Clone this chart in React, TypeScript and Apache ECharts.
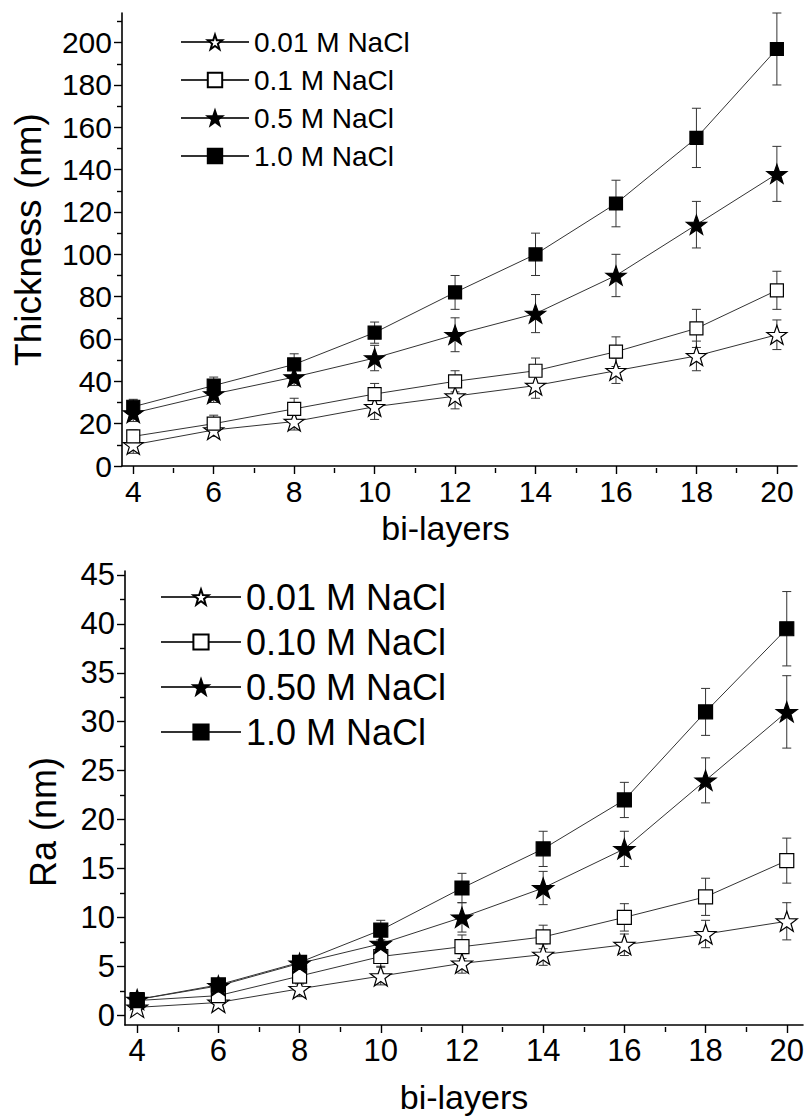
import React, { useEffect, useRef } from "react";
import * as echarts from "echarts";

// ---------- data ----------
const bilayers = [4, 6, 8, 10, 12, 14, 16, 18, 20];

const thickNames = ["0.01 M NaCl", "0.1 M NaCl", "0.5 M NaCl", "1.0 M NaCl"];
const thick001 = [10, 17, 21, 28, 33, 38, 45, 52, 62];
const thick001Err = [4, 3, 4, 6, 6, 6, 6, 7, 7];
const thick01 = [14, 20, 27, 34, 40, 45, 54, 65, 83];
const thick01Err = [3, 4, 5, 5, 5, 6, 7, 9, 9];
const thick05 = [25, 34, 42, 51, 62, 72, 90, 114, 138];
const thick05Err = [4, 4, 4, 6, 8, 9, 10, 11, 13];
const thick10 = [28, 38, 48, 63, 82, 100, 124, 155, 197];
const thick10Err = [3.5, 4, 5, 5, 8, 10, 11, 14, 17];

const raNames = ["0.01 M NaCl", "0.10 M NaCl", "0.50 M NaCl", "1.0 M NaCl"];
const ra001 = [0.8, 1.3, 2.7, 4, 5.3, 6.2, 7.2, 8.3, 9.6];
const ra001Err = [0.5, 0.5, 0.8, 0.9, 1, 1.1, 1.1, 1.4, 1.9];
const ra01 = [1.5, 2, 4, 6, 7, 8, 10, 12.1, 15.8];
const ra01Err = [0.4, 0.4, 0.8, 1, 1.2, 1.2, 1.4, 1.9, 2.3];
const ra05 = [1.6, 3, 5.3, 7.3, 10, 13, 17, 24, 31];
const ra05Err = [0.4, 0.5, 0.6, 1, 1.5, 1.7, 1.8, 2.3, 3.7];
const ra10 = [1.6, 3.1, 5.4, 8.7, 13, 17, 22, 31, 39.5];
const ra10Err = [0.4, 0.5, 0.6, 1, 1.5, 1.8, 1.8, 2.4, 3.8];

const xMajor = [4, 6, 8, 10, 12, 14, 16, 18, 20];
const xMinor = [5, 7, 9, 11, 13, 15, 17, 19];
const thickMajor = [0, 20, 40, 60, 80, 100, 120, 140, 160, 180, 200];
const thickMinor = [10, 30, 50, 70, 90, 110, 130, 150, 170, 190, 210];
const raMajor = [0, 5, 10, 15, 20, 25, 30, 35, 40, 45];
const raMinor = [2.5, 7.5, 12.5, 17.5, 22.5, 27.5, 32.5, 37.5, 42.5];

// ---------- styling ----------
const FONT = "'Liberation Sans', Arial, Helvetica, sans-serif";
const STAR =
  "path://M100,0 L123.5,67.6 L195.1,69.1 L138,112.4 L158.8,180.9 L100,140 L41.2,180.9 L62,112.4 L4.9,69.1 L76.5,67.6 Z";

type Cfg = {
  names: string[];
  vals: number[][];
  errs: number[][];
  gridLeft: number;
  gridTop: number;
  gridW: number;
  gridH: number;
  xMin: number;
  xMax: number;
  yMin: number;
  yMax: number;
  yMajor: number[];
  yMinor: number[];
  yName: string;
  yNameGap: number;
  yNameSize: number;
  yNamePad: number[];
  xNameGap: number;
  xNameSize: number;
  xNamePad: number[];
  tickSize: number;
  legendLeft: number;
  legendTop: number;
  legendW: number;
  legendH: number;
  legendGap: number;
  legendFont: number;
  starSize: number;
  squareSize: number;
};

function buildOption(c: Cfg) {
  const markers = [
    { symbol: STAR, fill: "#fff", size: c.starSize },
    { symbol: "rect", fill: "#fff", size: c.squareSize },
    { symbol: STAR, fill: "#000", size: c.starSize },
    { symbol: "rect", fill: "#000", size: c.squareSize },
  ];
  const lineSeries = c.names.map((name, k) => ({
    type: "line",
    name,
    xAxisIndex: 0,
    yAxisIndex: 0,
    data: bilayers.map((x, i) => [x, c.vals[k][i]]),
    symbol: markers[k].symbol,
    symbolSize: markers[k].size,
    symbolKeepAspect: true,
    showAllSymbol: true,
    lineStyle: { color: "#333", width: 1 },
    itemStyle: { color: markers[k].fill, borderColor: "#000", borderWidth: 1.2, opacity: 1 },
    z: 3,
  }));
  const errSeries = c.names.map((name, k) => ({
    type: "custom",
    name: "err " + k,
    xAxisIndex: 0,
    yAxisIndex: 0,
    silent: true,
    z: 2,
    data: bilayers.map((x, i) => [x, c.vals[k][i] - c.errs[k][i], c.vals[k][i] + c.errs[k][i]]),
    encode: { x: 0, y: [1, 2] },
    renderItem: (_p: any, api: any) => {
      const x = api.value(0);
      const lo = api.coord([x, api.value(1)]);
      const hi = api.coord([x, api.value(2)]);
      const w = 4.5;
      const st = { stroke: "#333", lineWidth: 1 };
      return {
        type: "group",
        children: [
          { type: "line", shape: { x1: lo[0], y1: lo[1], x2: hi[0], y2: hi[1] }, style: st },
          { type: "line", shape: { x1: lo[0] - w, y1: lo[1], x2: lo[0] + w, y2: lo[1] }, style: st },
          { type: "line", shape: { x1: hi[0] - w, y1: hi[1], x2: hi[0] + w, y2: hi[1] }, style: st },
        ],
      };
    },
  }));
  const axisLineStyle = { color: "#000", width: 1.6 };
  const tickLine = { color: "#000", width: 1.4 };
  return {
    animation: false,
    textStyle: { fontFamily: FONT },
    grid: { left: c.gridLeft, top: c.gridTop, width: c.gridW, height: c.gridH },
    legend: {
      orient: "vertical",
      left: c.legendLeft,
      top: c.legendTop,
      itemWidth: c.legendW,
      itemHeight: c.legendH,
      itemGap: c.legendGap,
      itemTextGap: 10,
      selectedMode: false,
      data: c.names,
      textStyle: { fontFamily: FONT, fontSize: c.legendFont, color: "#000" },
    },
    xAxis: [
      {
        type: "value",
        min: c.xMin,
        max: c.xMax,
        position: "bottom",
        axisLine: { onZero: false, lineStyle: axisLineStyle },
        axisTick: { customValues: xMajor, length: 8, lineStyle: tickLine },
        axisLabel: { customValues: xMajor, fontSize: c.tickSize, color: "#000", margin: 10, fontFamily: FONT },
        splitLine: { show: false },
        name: "bi-layers",
        nameLocation: "middle",
        nameGap: c.xNameGap,
        nameTextStyle: { fontSize: c.xNameSize, color: "#000", fontFamily: FONT, padding: c.xNamePad },
      },
      {
        type: "value",
        min: c.xMin,
        max: c.xMax,
        position: "top",
        offset: -c.gridH,
        axisLine: { show: false, onZero: false },
        axisTick: { customValues: xMinor, inside: true, length: 5, lineStyle: tickLine },
        axisLabel: { show: false },
        splitLine: { show: false },
      },
    ],
    yAxis: [
      {
        type: "value",
        min: c.yMin,
        max: c.yMax,
        position: "left",
        axisLine: { show: true, onZero: false, lineStyle: axisLineStyle },
        axisTick: { show: true, customValues: c.yMajor, length: 8, lineStyle: tickLine },
        axisLabel: { customValues: c.yMajor, fontSize: c.tickSize, color: "#000", margin: 10, fontFamily: FONT },
        splitLine: { show: false },
        name: c.yName,
        nameLocation: "middle",
        nameGap: c.yNameGap,
        nameTextStyle: { fontSize: c.yNameSize, color: "#000", fontFamily: FONT, padding: c.yNamePad },
      },
      {
        type: "value",
        min: c.yMin,
        max: c.yMax,
        position: "right",
        offset: -c.gridW,
        axisLine: { show: false, onZero: false },
        axisTick: { show: true, customValues: c.yMinor, inside: true, length: 5, lineStyle: tickLine },
        axisLabel: { show: false },
        splitLine: { show: false },
      },
    ],
    series: [...errSeries, ...lineSeries],
  };
}

const topCfg: Cfg = {
  names: thickNames,
  vals: [thick001, thick01, thick05, thick10],
  errs: [thick001Err, thick01Err, thick05Err, thick10Err],
  gridLeft: 122,
  gridTop: 13,
  gridW: 675,
  gridH: 455,
  xMin: 3.72,
  xMax: 20.5,
  yMin: 0,
  yMax: 214,
  yMajor: thickMajor,
  yMinor: thickMinor,
  yName: "Thickness (nm)",
  yNameGap: 75,
  yNameSize: 37,
  yNamePad: [0, 0, 0, 0],
  xNameGap: 45,
  xNameSize: 34,
  xNamePad: [0, 28, 0, 0],
  tickSize: 30,
  legendLeft: 175,
  legendTop: 23,
  legendW: 68,
  legendH: 18,
  legendGap: 10,
  legendFont: 28,
  starSize: 20,
  squareSize: 13,
};

const botCfg: Cfg = {
  names: raNames,
  vals: [ra001, ra01, ra05, ra10],
  errs: [ra001Err, ra01Err, ra05Err, ra10Err],
  gridLeft: 125,
  gridTop: 21,
  gridW: 678,
  gridH: 456,
  xMin: 3.7,
  xMax: 20.4,
  yMin: -1,
  yMax: 45.4,
  yMajor: raMajor,
  yMinor: raMinor,
  yName: "Ra (nm)",
  yNameGap: 64,
  yNameSize: 36,
  yNamePad: [0, 48, 0, 0],
  xNameGap: 55,
  xNameSize: 34,
  xNamePad: [0, 0, 0, 0],
  tickSize: 31,
  legendLeft: 155,
  legendTop: 24,
  legendW: 80,
  legendH: 19,
  legendGap: 9,
  legendFont: 36,
  starSize: 21,
  squareSize: 14,
};

function Chart({ cfg, top, height }: { cfg: Cfg; top: number; height: number }) {
  const ref = useRef<HTMLDivElement>(null);
  useEffect(() => {
    if (!ref.current) return;
    const chart = echarts.init(ref.current, undefined, { renderer: "svg" });
    chart.setOption(buildOption(cfg) as any);
    return () => chart.dispose();
  }, [cfg]);
  return (
    <div
      ref={ref}
      style={{ position: "absolute", left: 0, top, width: 809, height, background: "#fff" }}
    />
  );
}

export default function App() {
  return (
    <div style={{ position: "absolute", left: 0, top: 0, width: 809, height: 1119, background: "#fff" }}>
      <Chart cfg={topCfg} top={0} height={550} />
      <Chart cfg={botCfg} top={550} height={569} />
    </div>
  );
}
